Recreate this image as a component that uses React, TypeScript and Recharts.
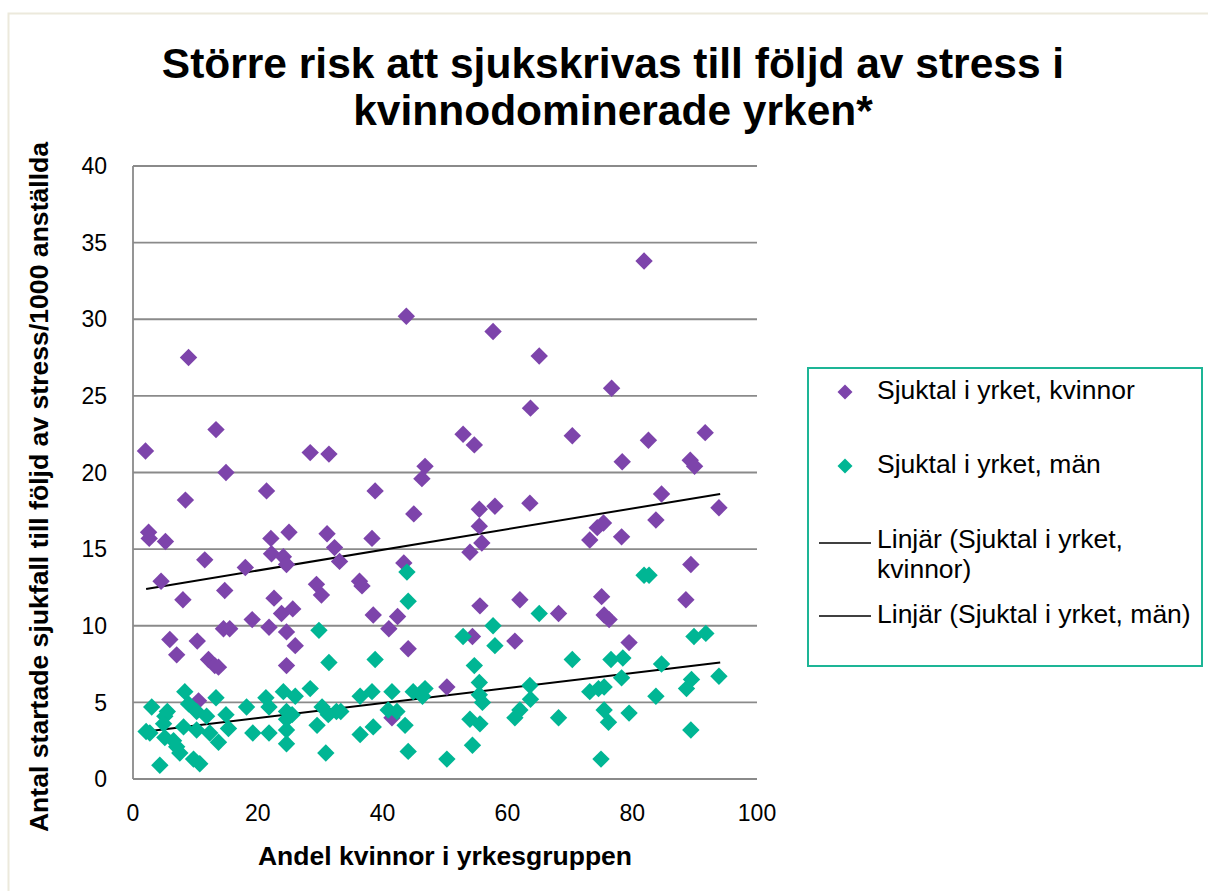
import React from 'react';
import { ScatterChart, Scatter, XAxis, YAxis, CartesianGrid, ReferenceLine, Legend } from 'recharts';

const titleLines = ['Större risk att sjukskrivas till följd av stress i', 'kvinnodominerade yrken*'];
const xTitle = 'Andel kvinnor i yrkesgruppen';
const yTitle = 'Antal startade sjukfall till följd av stress/1000 anställda';
const xTicks = [0, 20, 40, 60, 80, 100];
const yTicks = [0, 5, 10, 15, 20, 25, 30, 35, 40];

const seriesNames = ['Sjuktal i yrket, kvinnor', 'Sjuktal i yrket, män'];
const trendNames = [['Linjär (Sjuktal i yrket,', 'kvinnor)'], ['Linjär (Sjuktal i yrket, män)']];

const kvinnor: [number, number][] = [
  [8.9, 27.5], [13.3, 22.8], [2.0, 21.4], [28.4, 21.3], [31.4, 21.2], [46.8, 20.4], [46.3, 19.6], [14.9, 20.0],
  [21.4, 18.8], [38.8, 18.8], [8.4, 18.2], [45.0, 17.3], [2.5, 16.1], [2.6, 15.7], [5.2, 15.5], [22.1, 15.7],
  [25.0, 16.1], [31.1, 16.0], [38.3, 15.7], [32.3, 15.1], [11.5, 14.3], [22.2, 14.7], [24.1, 14.5], [24.6, 14.0],
  [33.1, 14.2], [18.0, 13.8], [43.4, 14.1], [43.8, 30.2], [57.7, 29.2], [65.1, 27.6], [76.7, 25.5], [63.7, 24.2],
  [52.9, 22.5], [54.7, 21.8], [70.4, 22.4], [82.6, 22.1], [91.7, 22.6], [78.4, 20.7], [89.3, 20.8], [90.0, 20.4],
  [55.5, 17.6], [58.0, 17.8], [63.6, 18.0], [84.7, 18.6], [93.9, 17.7], [55.5, 16.5], [55.9, 15.4], [54.0, 14.8],
  [74.4, 16.4], [75.4, 16.7], [73.2, 15.6], [78.3, 15.8], [83.8, 16.9], [89.4, 14.0], [81.9, 33.8], [4.5, 12.9],
  [8.0, 11.7], [14.7, 12.3], [22.6, 11.8], [29.4, 12.7], [30.2, 12.0], [36.3, 12.9], [36.7, 12.6], [23.8, 10.8],
  [25.6, 11.1], [38.5, 10.7], [42.4, 10.6], [41.0, 9.8], [19.1, 10.4], [21.8, 9.9], [24.6, 9.6], [26.0, 8.7],
  [14.5, 9.8], [15.5, 9.8], [5.9, 9.1], [10.3, 9.0], [7.0, 8.1], [12.1, 7.8], [13.1, 7.4], [13.7, 7.3],
  [24.6, 7.4], [44.1, 8.5], [10.5, 5.1], [41.5, 4.0], [50.3, 6.0], [55.6, 11.3], [62.0, 11.7], [75.1, 11.9],
  [75.5, 10.7], [76.3, 10.4], [68.2, 10.8], [88.6, 11.7], [54.4, 9.3], [61.2, 9.0], [79.5, 8.9],
];

const man: [number, number][] = [
  [43.9, 13.5], [44.1, 11.6], [29.8, 9.7], [31.4, 7.6], [38.8, 7.8], [3.0, 4.7], [2.1, 3.1], [2.7, 3.0],
  [4.3, 0.9], [5.5, 4.4], [5.1, 4.1], [8.3, 5.7], [8.9, 4.9], [8.1, 3.4], [6.5, 2.5], [7.0, 2.1],
  [7.5, 1.7], [9.7, 1.3], [10.7, 1.0], [10.2, 4.4], [11.8, 4.1], [10.2, 3.2], [12.3, 3.0], [13.7, 2.4],
  [13.3, 5.3], [14.9, 4.2], [15.3, 3.3], [18.2, 4.7], [19.2, 3.0], [21.3, 5.3], [21.8, 4.7], [21.8, 3.0],
  [24.1, 5.7], [26.0, 5.4], [28.4, 5.9], [24.6, 4.4], [24.6, 3.9], [24.6, 3.2], [24.6, 2.3], [25.5, 4.2],
  [29.5, 3.5], [30.3, 4.7], [31.3, 4.2], [32.6, 4.4], [33.3, 4.4], [30.9, 1.7], [36.4, 5.4], [38.3, 5.7],
  [36.4, 2.9], [38.5, 3.4], [41.5, 5.7], [40.9, 4.5], [42.3, 4.4], [43.6, 3.5], [44.1, 1.8], [44.9, 5.7],
  [46.8, 5.9], [46.4, 5.4], [50.3, 1.3], [81.9, 13.3], [82.7, 13.3], [65.1, 10.8], [57.7, 10.0], [52.9, 9.3],
  [58.0, 8.7], [89.9, 9.3], [91.8, 9.5], [70.4, 7.8], [76.6, 7.8], [78.5, 7.9], [54.7, 7.4], [84.7, 7.5],
  [78.3, 6.6], [93.9, 6.7], [55.5, 6.3], [63.6, 6.1], [89.5, 6.5], [88.7, 5.9], [73.2, 5.7], [74.6, 5.9],
  [75.5, 6.0], [83.8, 5.4], [55.5, 5.5], [56.0, 5.0], [63.7, 5.2], [62.0, 4.5], [61.2, 4.0], [54.0, 3.9],
  [55.6, 3.6], [68.2, 4.0], [75.5, 4.5], [76.2, 3.7], [79.5, 4.3], [89.4, 3.2], [54.4, 2.2], [75.0, 1.3],
  [4.9, 3.6], [5.1, 2.7],
];

const trendKvinnor: [number, number][] = [[2.1, 12.4], [94.1, 18.6]];
const trendMan: [number, number][] = [[2.1, 3.1], [94.1, 7.6]];

const PURPLE = '#7d44ab';
const TEAL = '#00b694';
const GRID = '#8a8a8a';
const FONT = "'Liberation Sans', Arial, sans-serif";

const toPts = (arr: [number, number][]) => arr.map(([x, y]) => ({ x, y }));

const diamondPath = (cx: number, cy: number, r: number) =>
  `M${cx},${cy - r}L${cx + r},${cy}L${cx},${cy + r}L${cx - r},${cy}Z`;

const makeDiamond = (color: string, r: number) => (props: any) => {
  const { cx, cy } = props;
  if (cx == null || cy == null || isNaN(cx) || isNaN(cy)) return <g />;
  return <path d={diamondPath(cx, cy, r)} fill={color} />;
};

const LF = 26.5;

const renderLegend = () => (
  <svg width={396} height={300} style={{ display: 'block' }}>
    <rect x={1} y={1} width={394} height={298} fill="#fff" stroke="#1db596" strokeWidth={2} />
    <path d={diamondPath(38, 25, 7.5)} fill={PURPLE} />
    <text x={70} y={32} fontSize={LF} fontFamily={FONT} fill="#000">{seriesNames[0]}</text>
    <path d={diamondPath(38, 99, 7.5)} fill={TEAL} />
    <text x={70} y={106} fontSize={LF} fontFamily={FONT} fill="#000">{seriesNames[1]}</text>
    <line x1={12} x2={64} y1={176} y2={176} stroke="#000" strokeWidth={1.5} />
    <text x={70} y={181} fontSize={LF} fontFamily={FONT} fill="#000">{trendNames[0][0]}</text>
    <text x={70} y={211} fontSize={LF} fontFamily={FONT} fill="#000">{trendNames[0][1]}</text>
    <line x1={12} x2={64} y1={249} y2={249} stroke="#000" strokeWidth={1.5} />
    <text x={70} y={256} fontSize={LF} fontFamily={FONT} fill="#000">{trendNames[1][0]}</text>
  </svg>
);

export default function App() {
  const W = 1208;
  const H = 891;
  return (
    <div style={{ position: 'absolute', left: 0, top: 0, width: W, height: H, background: '#fff', overflow: 'hidden' }}>
      <ScatterChart
        width={W}
        height={H}
        margin={{ top: 166, right: W - 757, left: 133 - 60, bottom: H - 779 - 40 }}
      >
        <CartesianGrid vertical={false} stroke={GRID} strokeWidth={1.8} />
        <XAxis
          type="number"
          dataKey="x"
          domain={[0, 100]}
          ticks={xTicks}
          height={40}
          tickLine={false}
          tickSize={0}
          tickMargin={26}
          axisLine={{ stroke: GRID, strokeWidth: 1.8 }}
          tick={{ fontSize: 23, fontFamily: FONT, fill: '#000' }}
          allowDataOverflow
        />
        <YAxis
          type="number"
          dataKey="y"
          domain={[0, 40]}
          ticks={yTicks}
          width={60}
          tickLine={false}
          tickSize={0}
          tickMargin={26}
          axisLine={{ stroke: GRID, strokeWidth: 1.8 }}
          tick={{ fontSize: 23, fontFamily: FONT, fill: '#000' }}
          allowDataOverflow
        />
        <Scatter name={seriesNames[0]} data={toPts(kvinnor)} shape={makeDiamond(PURPLE, 8.7)} isAnimationActive={false} />
        <Scatter name={seriesNames[1]} data={toPts(man)} shape={makeDiamond(TEAL, 8.7)} isAnimationActive={false} />
        <ReferenceLine segment={toPts(trendKvinnor)} stroke="#000" strokeWidth={2} />
        <ReferenceLine segment={toPts(trendMan)} stroke="#000" strokeWidth={2} />
        <Legend
          layout="horizontal"
          verticalAlign="middle"
          align="center"
          content={renderLegend}
          wrapperStyle={{ left: 807, top: 367, width: 396, height: 300 }}
        />
      </ScatterChart>
      <svg width={W} height={H} style={{ position: 'absolute', left: 0, top: 0, pointerEvents: 'none' }}>
        <rect x={8.5} y={13.5} width={1400} height={1000} fill="none" stroke="#ece9dc" strokeWidth={2} />
        <text x={613} y={78} textAnchor="middle" fontSize={42.5} fontWeight="bold" fontFamily={FONT} fill="#000">{titleLines[0]}</text>
        <text x={613} y={125} textAnchor="middle" fontSize={42.5} fontWeight="bold" fontFamily={FONT} fill="#000">{titleLines[1]}</text>
        <text x={445} y={865} textAnchor="middle" fontSize={26.5} fontWeight="bold" fontFamily={FONT} fill="#000">{xTitle}</text>
        <text transform="translate(48,487) rotate(-90)" textAnchor="middle" fontSize={26.6} fontWeight="bold" fontFamily={FONT} fill="#000">{yTitle}</text>
      </svg>
    </div>
  );
}
